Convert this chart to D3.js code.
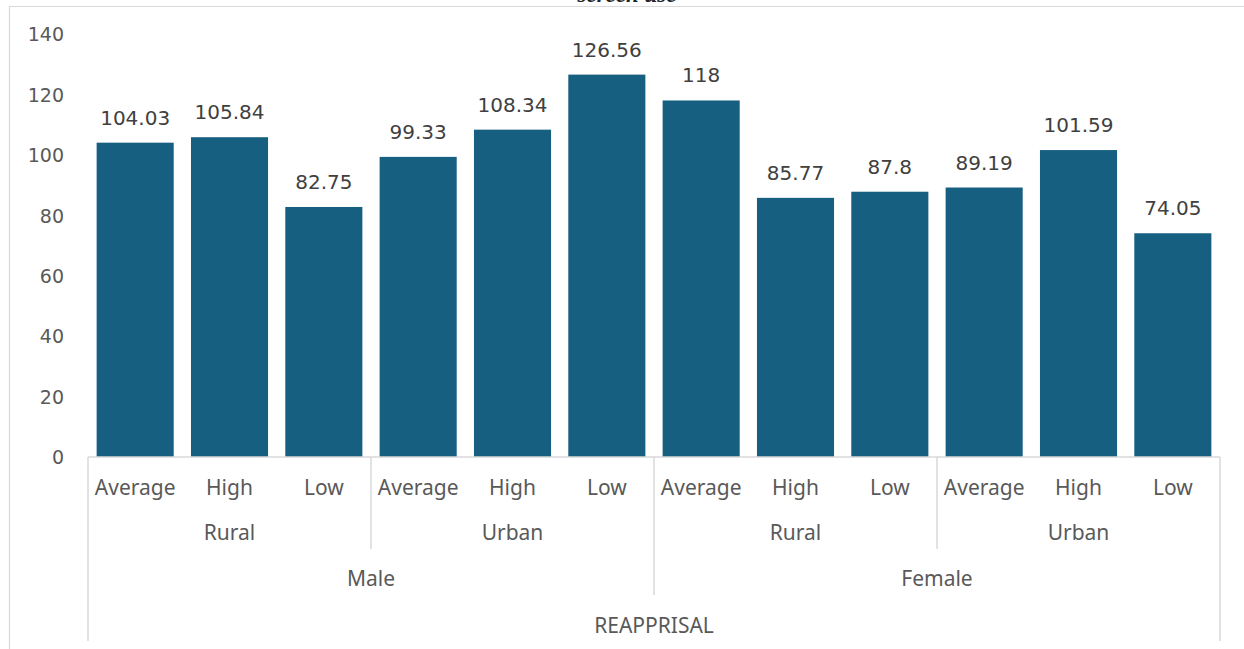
<!DOCTYPE html>
<html>
<head>
<meta charset="utf-8">
<script src="https://cdn.jsdelivr.net/npm/d3@7"></script>
<style>
  html, body { margin: 0; padding: 0; background: #fff; }
  svg { display: block; }
</style>
</head>
<body>
<svg id="chart" width="1244" height="649"></svg>
<script>
// Category hierarchy (innermost first) and values
const levels = ["Average", "High", "Low"];
const areas = ["Rural", "Urban"];
const genders = ["Male", "Female"];
const measure = "REAPPRISAL";
const maleRural = [104.03, 105.84, 82.75];
const maleUrban = [99.33, 108.34, 126.56];
const femaleRural = [118, 85.77, 87.8];
const femaleUrban = [89.19, 101.59, 74.05];
const yTicks = [0, 20, 40, 60, 80, 100, 120, 140];

const seriesByGroup = [[maleRural, maleUrban], [femaleRural, femaleUrban]];
const rows = [];
genders.forEach((g, gi) => areas.forEach((a, ai) => levels.forEach((l, li) => {
  rows.push({ key: `${g}|${a}|${l}`, gender: g, area: a, level: l,
              value: seriesByGroup[gi][ai][li] });
})));

const svg = d3.select("#chart");
const numFont = "'DejaVu Sans', sans-serif";
const catFont = "'Noto Sans', sans-serif";
const textCol = "#595959";
const lineCol = "#d9d9d9";
const barCol = "#175f81";

// chart frame
svg.append("path")
  .attr("d", "M9.5,660 L9.5,6.5 L1260,6.5")
  .attr("fill", "none").attr("stroke", lineCol).attr("stroke-width", 1.2);

// title, running off the top edge
svg.append("text")
  .attr("x", 627).attr("y", 2)
  .attr("text-anchor", "middle")
  .attr("font-family", "'Liberation Serif', serif")
  .attr("font-style", "italic").attr("font-weight", "bold")
  .attr("font-size", 23).attr("fill", "#222")
  .text("screen use");

const x = d3.scaleBand().domain(rows.map(r => r.key)).range([88, 1220])
  .paddingInner(0.183).paddingOuter(0.0915);
const y = d3.scaleLinear().domain([0, 140]).range([457, 34]);

// y axis labels
const yAxis = d3.axisLeft(y).tickValues(yTicks).tickSize(0).tickPadding(0);
const gy = svg.append("g").attr("transform", "translate(64,0)").call(yAxis);
gy.select(".domain").remove();
gy.selectAll("text").attr("font-family", numFont).attr("font-size", 19)
  .attr("fill", textCol).attr("dy", "0.36em");

// bars
svg.append("g").selectAll("rect").data(rows).join("rect")
  .attr("x", d => x(d.key)).attr("width", x.bandwidth())
  .attr("y", d => y(d.value)).attr("height", d => y(0) - y(d.value))
  .attr("fill", barCol);

// value labels
svg.append("g").selectAll("text").data(rows).join("text")
  .attr("x", d => x(d.key) + x.bandwidth() / 2)
  .attr("y", d => y(d.value) - 18)
  .attr("text-anchor", "middle")
  .attr("font-family", numFont).attr("font-size", 20).attr("fill", "#404040")
  .text(d => String(d.value));

// multi-level category axis
const step = x.step();
const x0 = 88, x1 = 1220, base = 457;
const ax = svg.append("g").attr("stroke", lineCol).attr("stroke-width", 1.5);
ax.append("line").attr("x1", x0).attr("x2", x1).attr("y1", base).attr("y2", base);
// outer edges
[x0, x1].forEach(v => ax.append("line").attr("x1", v).attr("x2", v)
  .attr("y1", base).attr("y2", 641));
// area separators
genders.forEach((g, gi) => {
  const xs = x0 + (gi * 6 + 3) * step;
  ax.append("line").attr("x1", xs).attr("x2", xs).attr("y1", base).attr("y2", 549);
});
// gender separator
ax.append("line").attr("x1", x0 + 6 * step).attr("x2", x0 + 6 * step)
  .attr("y1", base).attr("y2", 595);

const lab = svg.append("g").attr("font-family", catFont).attr("font-size", 21)
  .attr("fill", textCol).attr("text-anchor", "middle");
rows.forEach(r => lab.append("text")
  .attr("x", x(r.key) + x.bandwidth() / 2).attr("y", 495).text(r.level));
genders.forEach((g, gi) => areas.forEach((a, ai) => {
  const cx = x0 + (gi * 6 + ai * 3 + 1.5) * step;
  lab.append("text").attr("x", cx).attr("y", 540).text(a);
}));
genders.forEach((g, gi) => {
  lab.append("text").attr("x", x0 + (gi * 6 + 3) * step).attr("y", 586).text(g);
});
lab.append("text").attr("x", (x0 + x1) / 2).attr("y", 633).text(measure);
</script>
</body>
</html>
